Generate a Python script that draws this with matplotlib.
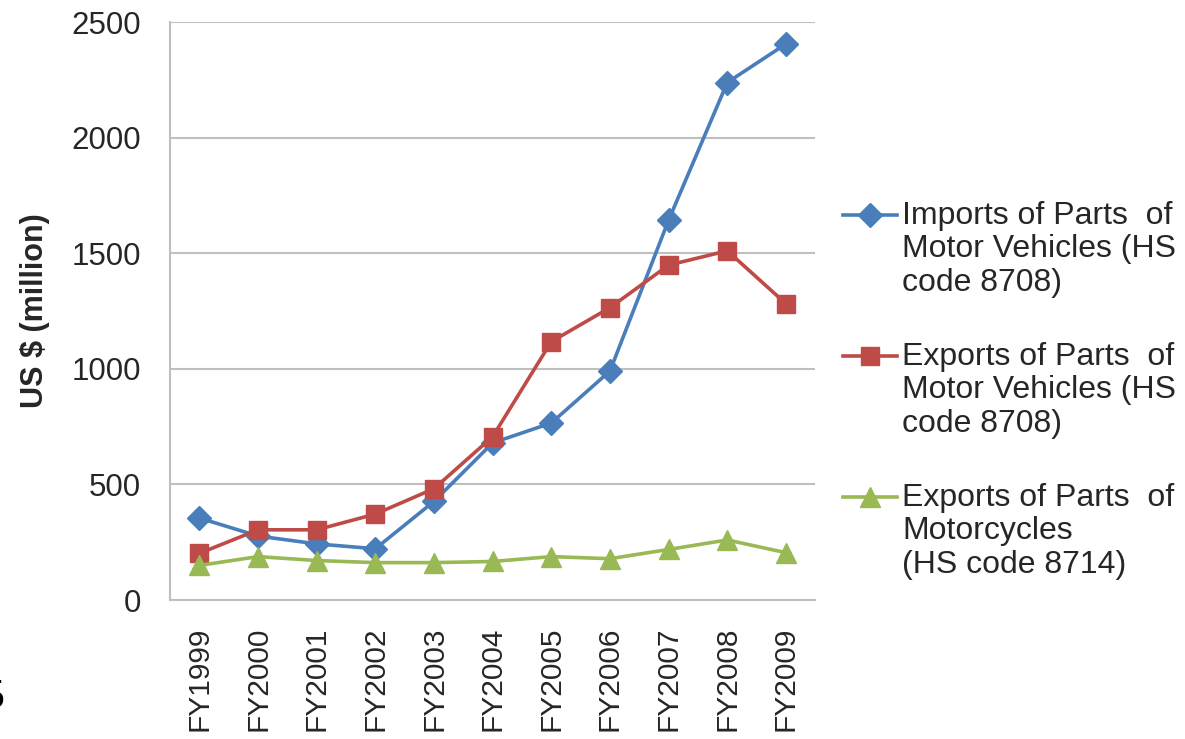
import matplotlib
matplotlib.use("Agg")
import matplotlib.pyplot as plt
from matplotlib.lines import Line2D

plt.rcParams['font.family'] = ['Liberation Sans', 'DejaVu Sans']

years = ["FY1999", "FY2000", "FY2001", "FY2002", "FY2003", "FY2004",
         "FY2005", "FY2006", "FY2007", "FY2008", "FY2009"]
imports_mv = [355, 277, 243, 222, 427, 680, 766, 991, 1644, 2239, 2406]
exports_mv = [202, 304, 304, 372, 482, 707, 1118, 1265, 1449, 1511, 1282]
exports_mc = [150, 188, 171, 162, 162, 167, 188, 179, 219, 260, 205]

series_labels = [
    "Imports of Parts  of\nMotor Vehicles (HS\ncode 8708)",
    "Exports of Parts  of\nMotor Vehicles (HS\ncode 8708)",
    "Exports of Parts  of\nMotorcycles\n(HS code 8714)",
]
yticks = [0, 500, 1000, 1500, 2000, 2500]

blue, red, green = "#4A7EBB", "#BE4B48", "#98B954"
grid_c = "#BFBFBF"
text_c = "#262626"

fig = plt.figure(figsize=(11.85, 7.39), dpi=100)
ax = fig.add_axes([0.1435, 0.188, 0.5445, 0.782])

x = list(range(len(years)))
styles = [
    (imports_mv, blue, "D", 12),
    (exports_mv, red, "s", 13),
    (exports_mc, green, "^", 15),
]
for vals, col, mk, ms in styles:
    ax.plot(x, vals, color=col, lw=2.6, marker=mk, markersize=ms,
            markerfacecolor=col, markeredgecolor=col, zorder=3, clip_on=False)

ax.set_xlim(-0.5, len(years) - 0.5)
ax.set_ylim(0, 2500)
ax.set_yticks(yticks)
ax.set_yticklabels([str(v) for v in yticks])
ax.set_xticks(x)
ax.set_xticklabels(years, rotation=90, va="top", ha="center")
ax.tick_params(axis="both", colors=text_c, length=0)
ax.tick_params(axis="x", pad=19, labelsize=21.5)
ax.tick_params(axis="y", pad=21, labelsize=22.5)
ax.yaxis.grid(True, color=grid_c, lw=1.5)
ax.set_axisbelow(True)
for s in ["top", "right"]:
    ax.spines[s].set_visible(False)
for s in ["left", "bottom"]:
    ax.spines[s].set_color(grid_c)
    ax.spines[s].set_linewidth(1.5)

ax.set_ylabel("US $ (million)", fontsize=22, fontweight="bold", color=text_c)
ax.yaxis.set_label_coords(-0.186, 0.5)

# legend drawn beside the plot area, handle aligned with the first text line
leg_top = [1 - 201 / 739, 1 - 342 / 739, 1 - 483 / 739]
for (vals, col, mk, ms), lab, yt in zip(styles, series_labels, leg_top):
    yh = yt - 14 / 739
    fig.add_artist(Line2D([843 / 1185, 897 / 1185], [yh, yh], color=col,
                          lw=2.6, transform=fig.transFigure))
    fig.add_artist(Line2D([870 / 1185], [yh], color=col, marker=mk,
                          markersize=ms, markerfacecolor=col,
                          markeredgecolor=col, transform=fig.transFigure))
    fig.text(902 / 1185, yt, lab, fontsize=23, color=text_c, va="top",
             ha="left", linespacing=1.15)

fig.text(-0.014, 1 - 698 / 739, "5", fontsize=30, color="black",
         va="center", ha="left", family="Liberation Serif")

fig.savefig("out.png", dpi=100)
